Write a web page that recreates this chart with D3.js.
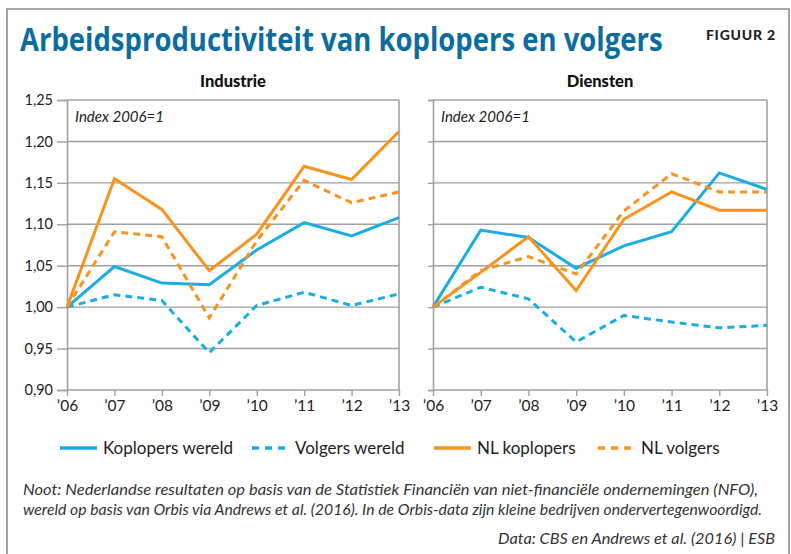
<!DOCTYPE html>
<html>
<head>
<meta charset="utf-8">
<script src="https://cdn.jsdelivr.net/npm/d3@7"></script>
<style>
  html, body { margin: 0; padding: 0; background: #fff; }
  svg { display: block; font-family: Lato, "Open Sans", sans-serif; }
</style>
</head>
<body>
<svg id="chart" width="791" height="554"></svg>
<script>
// ─── Data ─────────────────────────────────────────────────────────────────
const years = ["’06", "’07", "’08", "’09", "’10", "’11", "’12", "’13"];
const yTicks = [0.90, 0.95, 1.00, 1.05, 1.10, 1.15, 1.20, 1.25];

// Industrie
const indKoplopersWereld = [1.000, 1.049, 1.029, 1.027, 1.069, 1.102, 1.086, 1.108];
const indVolgersWereld   = [1.000, 1.015, 1.008, 0.945, 1.002, 1.018, 1.002, 1.016];
const indNLKoplopers     = [1.000, 1.155, 1.118, 1.044, 1.088, 1.170, 1.154, 1.212];
const indNLVolgers       = [1.000, 1.091, 1.085, 0.987, 1.080, 1.153, 1.126, 1.139];

// Diensten
const dieKoplopersWereld = [1.000, 1.093, 1.084, 1.047, 1.074, 1.091, 1.162, 1.142];
const dieVolgersWereld   = [1.000, 1.024, 1.010, 0.958, 0.990, 0.982, 0.975, 0.978];
const dieNLKoplopers     = [1.000, 1.042, 1.085, 1.020, 1.106, 1.139, 1.117, 1.117];
const dieNLVolgers       = [1.000, 1.044, 1.061, 1.040, 1.116, 1.161, 1.139, 1.139];

const seriesNames = ["Koplopers wereld", "Volgers wereld", "NL koplopers", "NL volgers"];

const BLUE = "#19ade4";
const ORANGE = "#f7931e";
const styles = [
  { color: BLUE, dash: null },
  { color: BLUE, dash: "7,5" },
  { color: ORANGE, dash: null },
  { color: ORANGE, dash: "7,5" },
];

const panels = [
  { title: "Industrie", x0: 67, x1: 399, labels: true,
    series: [indKoplopersWereld, indVolgersWereld, indNLKoplopers, indNLVolgers] },
  { title: "Diensten", x0: 433, x1: 767, labels: false,
    series: [dieKoplopersWereld, dieVolgersWereld, dieNLKoplopers, dieNLVolgers] },
];

const svg = d3.select("#chart");
const GRID = "#a0a0a0";

// outer frame (open at the bottom)
svg.append("path")
  .attr("d", "M7,560 V9 H789 V560")
  .attr("fill", "none")
  .attr("stroke", "#8c8c8c")
  .attr("stroke-width", 1.6);

// title: squeezed horizontally to mimic the condensed face
const title = svg.append("text")
  .attr("font-family", "'Open Sans', Lato, sans-serif")
  .attr("font-weight", 700)
  .attr("font-size", 33)
  .attr("fill", "#0b6d9f")
  .text("Arbeidsproductiviteit van koplopers en volgers");
const tw = title.node().getComputedTextLength();
title.attr("transform", `translate(20,51) scale(${643 / tw},1)`);

svg.append("text")
  .attr("x", 776).attr("y", 40)
  .attr("text-anchor", "end")
  .attr("font-weight", 900)
  .attr("font-size", 14)
  .attr("fill", "#222")
  .attr("letter-spacing", 0.8)
  .text("FIGUUR 2");

// ─── Panels ───────────────────────────────────────────────────────────────
const yTop = 100, yBot = 390;

panels.forEach(p => {
  const x = d3.scalePoint(years, [p.x0, p.x1]);
  const y = d3.scaleLinear([0.90, 1.25], [yBot, yTop]);
  const g = svg.append("g");

  // panel title
  g.append("text")
    .attr("x", (p.x0 + p.x1) / 2).attr("y", 87)
    .attr("text-anchor", "middle")
    .attr("font-weight", 900)
    .attr("font-size", 16.5)
    .attr("fill", "#111")
    .text(p.title);

  // horizontal gridlines
  g.selectAll(".grid")
    .data(yTicks)
    .join("line")
    .attr("x1", p.x0).attr("x2", p.x1)
    .attr("y1", d => y(d)).attr("y2", d => y(d))
    .attr("stroke", GRID)
    .attr("stroke-width", 1.4);

  // y axis
  const yAxis = g.append("g")
    .attr("transform", `translate(${p.x0},0)`)
    .call(d3.axisLeft(y)
      .tickValues(yTicks)
      .tickSize(p.labels ? 10 : 5)
      .tickPadding(4)
      .tickFormat(d => p.labels ? d3.format(".2f")(d).replace(".", ",") : ""));
  yAxis.select(".domain").attr("stroke", GRID).attr("stroke-width", 1.6);
  yAxis.selectAll(".tick line").attr("stroke", GRID).attr("stroke-width", 1.4);
  yAxis.selectAll(".tick text")
    .attr("font-size", 14.5)
    .attr("fill", "#222")
    .attr("font-family", "Lato, sans-serif");

  // right edge
  g.append("line")
    .attr("x1", p.x1).attr("x2", p.x1)
    .attr("y1", yTop).attr("y2", yBot)
    .attr("stroke", GRID).attr("stroke-width", 1.6);

  // x axis
  const xAxis = g.append("g")
    .attr("transform", `translate(0,${yBot})`)
    .call(d3.axisBottom(x).tickSize(6).tickPadding(4));
  xAxis.select(".domain").remove();
  xAxis.selectAll(".tick line").attr("stroke", GRID).attr("stroke-width", 1.4);
  xAxis.selectAll(".tick text")
    .attr("font-size", 15.5)
    .attr("fill", "#222")
    .attr("font-family", "Lato, sans-serif");

  // index label
  g.append("text")
    .attr("x", p.x0 + 8).attr("y", 122)
    .attr("font-style", "italic")
    .attr("font-size", 15)
    .attr("fill", "#222")
    .text("Index 2006=1");

  // lines
  const line = d3.line()
    .x((d, i) => x(years[i]))
    .y(d => y(d));

  g.selectAll(".series")
    .data(p.series)
    .join("path")
    .attr("d", line)
    .attr("fill", "none")
    .attr("stroke", (d, i) => styles[i].color)
    .attr("stroke-width", 3)
    .attr("stroke-linejoin", "miter")
    .attr("stroke-dasharray", (d, i) => styles[i].dash);
});

// ─── Legend ───────────────────────────────────────────────────────────────
const legendX = [60, 252, 434, 598];
const legend = svg.append("g").attr("transform", "translate(0,448)");
seriesNames.forEach((name, i) => {
  legend.append("line")
    .attr("x1", legendX[i]).attr("x2", legendX[i] + 37)
    .attr("y1", 0).attr("y2", 0)
    .attr("stroke", styles[i].color)
    .attr("stroke-width", 3.5)
    .attr("stroke-dasharray", styles[i].dash ? "7,6" : null);
  legend.append("text")
    .attr("x", legendX[i] + 43).attr("y", 6)
    .attr("font-size", 17)
    .attr("fill", "#222")
    .text(name);
});

// ─── Notes ────────────────────────────────────────────────────────────────
const notes = [
  "Noot: Nederlandse resultaten op basis van de Statistiek Financiën van niet-financiële ondernemingen (NFO),",
  "wereld op basis van Orbis via Andrews et al. (2016). In de Orbis-data zijn kleine bedrijven ondervertegenwoordigd.",
];
const noteWidths = [735, 739];
svg.selectAll(".note")
  .data(notes)
  .join("text")
  .attr("x", 23)
  .attr("y", (d, i) => 495 + i * 20)
  .attr("font-style", "italic")
  .attr("font-size", 16.3)
  .attr("fill", "#333")
  .attr("textLength", (d, i) => noteWidths[i])
  .attr("lengthAdjust", "spacingAndGlyphs")
  .text(d => d);

svg.append("text")
  .attr("x", 775).attr("y", 544)
  .attr("text-anchor", "end")
  .attr("font-style", "italic")
  .attr("font-size", 16.3)
  .attr("fill", "#333")
  .text("Data: CBS en Andrews et al. (2016) | ESB");
</script>
</body>
</html>
